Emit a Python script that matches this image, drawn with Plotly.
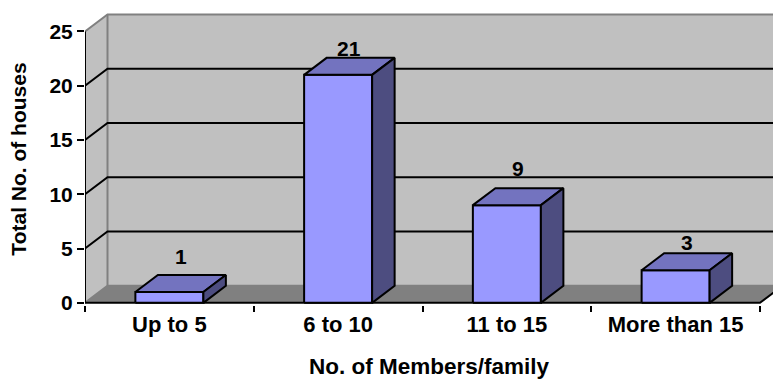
import plotly.graph_objects as go

# Household size survey: number of houses per family-size band
categories = ["Up to 5", "6 to 10", "11 to 15", "More than 15"]
houses = [1, 21, 9, 3]
y_ticks = [0, 5, 10, 15, 20, 25]

# pseudo-3D projection of the depth axis (in data units)
PX_PER_CAT = 168.75
PX_PER_UNIT = 10.855
DX = 22.5 / PX_PER_CAT
DY = 17.0 / PX_PER_UNIT
BAR_HALF = 0.2015
Y_TOP = 25

# vertical lift of each value label above its bar, in pixels
label_lift = [35, 26, 37, 28]

X0 = -0.5
X1 = len(categories) - 0.5
XFAR = X1 + DX

WALL = "#C0C0C0"
FLOOR = "#808080"
EDGE = "#808080"
FRONT = "#9999FF"
TOP = "#7373BF"
SIDE = "#4D4D80"

fig = go.Figure()


def polygon(xs, ys, fill, line_color="black", line_width=2):
    fig.add_trace(go.Scatter(
        x=list(xs) + [xs[0]], y=list(ys) + [ys[0]],
        mode="lines", fill="toself", fillcolor=fill,
        line=dict(color=line_color, width=line_width),
        hoverinfo="skip", showlegend=False))


def polyline(xs, ys, color, width=2):
    fig.add_trace(go.Scatter(
        x=xs, y=ys, mode="lines",
        line=dict(color=color, width=width),
        hoverinfo="skip", showlegend=False))


# walls and floor
polygon([X0, X0 + DX, X0 + DX, X0], [0, DY, Y_TOP + DY, Y_TOP], WALL, WALL, 0)
polygon([X0 + DX, XFAR, XFAR, X0 + DX], [DY, DY, Y_TOP + DY, Y_TOP + DY], WALL, WALL, 0)
polygon([X0, X1, X1 + DX, X0 + DX], [0, 0, DY, DY], FLOOR, FLOOR, 0)

# wall edges
polyline([X0, X0 + DX, XFAR], [Y_TOP, Y_TOP + DY, Y_TOP + DY], EDGE)
polyline([X0 + DX, X0 + DX], [DY, Y_TOP + DY], EDGE)
polyline([X0, X0 + DX, XFAR], [0, DY, DY], EDGE)

# gridlines running across the side and back walls
for v in y_ticks[1:-1]:
    polyline([X0, X0 + DX, XFAR], [v, v + DY, v + DY], "black")

# front floor edge and value axis line
polyline([X0, X1, X1 + DX], [0, 0, DY], "black")
polyline([X0, X0], [0, Y_TOP], "black")

FONT = "Arial, Liberation Sans"

# columns
for i, v in enumerate(houses):
    xl, xr = i - BAR_HALF, i + BAR_HALF
    polygon([xl, xr, xr, xl], [0, 0, v, v], FRONT)
    polygon([xl, xr, xr + DX, xl + DX], [v, v, v + DY, v + DY], TOP)
    polygon([xr, xr + DX, xr + DX, xr], [0, DY, v + DY, v], SIDE)
    fig.add_annotation(
        x=i + DX / 2, y=v, text=f"<b>{v}</b>", showarrow=False,
        xref="x", yref="y", yanchor="middle", yshift=label_lift[i],
        font=dict(family=FONT, size=21, color="black"))

# carrier for the category axis (keeps xaxis2 rendered)
fig.add_trace(go.Scatter(
    x=list(range(len(categories))), y=[-50] * len(categories),
    xaxis="x2", yaxis="y", mode="markers", marker=dict(opacity=0),
    hoverinfo="skip", showlegend=False))

x_range = [X0, X0 + (773 - 85) / PX_PER_CAT]

fig.update_layout(
    width=773, height=379,
    margin=dict(l=85, r=0, t=13, b=74),
    paper_bgcolor="white", plot_bgcolor="white",
    showlegend=False,
    xaxis=dict(
        range=x_range, tickvals=[i - 0.5 for i in range(len(categories) + 1)],
        ticks="outside", ticklen=6, tickwidth=2, tickcolor="black",
        showticklabels=False, showgrid=False, zeroline=False, showline=False,
        fixedrange=True),
    xaxis2=dict(
        overlaying="x", anchor="y", side="bottom", range=x_range,
        tickvals=list(range(len(categories))),
        ticktext=[f"<b>{c}</b>" for c in categories],
        ticks="", ticklabelstandoff=4,
        showgrid=False, zeroline=False, showline=False,
        tickfont=dict(family=FONT, size=22, color="black"),
        title=dict(text="<b>No. of Members/family</b>", standoff=26,
                   font=dict(family=FONT, size=22.5, color="black"))),
    yaxis=dict(
        range=[-0.2, 26.7], tickvals=y_ticks,
        ticktext=[f"<b>{t}</b>" for t in y_ticks],
        ticks="outside", ticklen=7, tickwidth=2, tickcolor="black",
        showgrid=False, zeroline=False, showline=False,
        tickfont=dict(family=FONT, size=21, color="black"),
        title=dict(text="<b>Total No. of houses</b>", standoff=17,
                   font=dict(family=FONT, size=21, color="black"))),
)

fig.write_html("out.html")
